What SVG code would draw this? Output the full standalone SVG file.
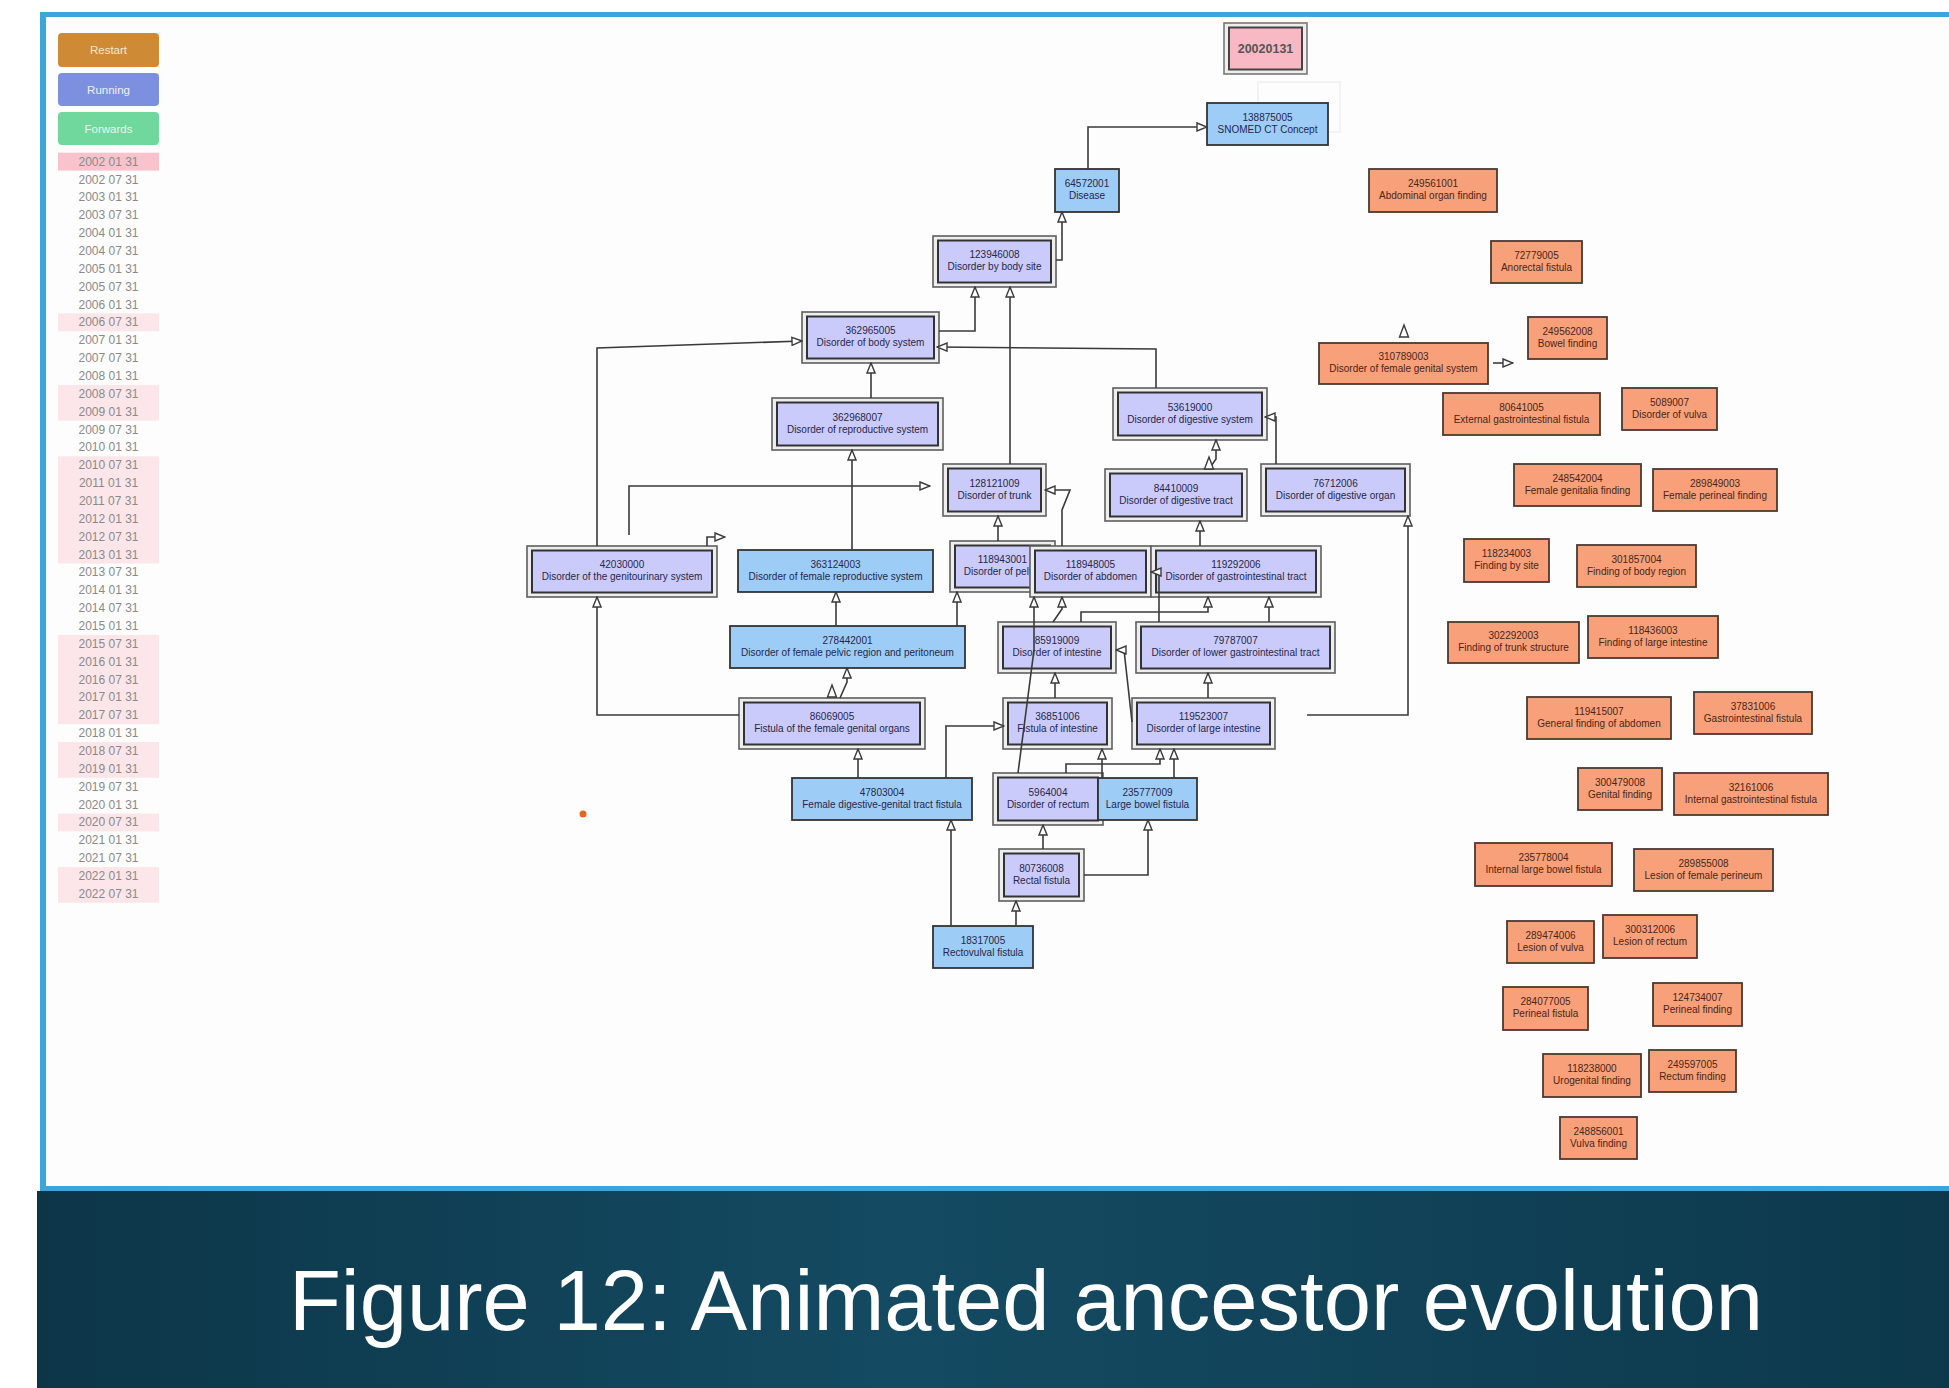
<svg xmlns="http://www.w3.org/2000/svg" width="1949" height="1388" viewBox="0 0 1949 1388">
  <style>
    .frame { fill: #fdfdfd; }
    .edge { fill: #3ca6da; }
    .btn-t { font-family: "Liberation Sans", Arial, sans-serif; font-size: 11.5px; text-anchor: middle; }
    .date { font-family: "Liberation Sans", Arial, sans-serif; font-size: 12px; fill: #8a8a8a; text-anchor: middle; }
    .hl { fill: #fce6e9; }
    .outer { fill: #eeeeee; stroke: #5e5e5e; stroke-width: 1.6; }
    .inner { fill: #cbcbfb; stroke: #333333; stroke-width: 2; }
    .blue { fill: #9dcdf7; stroke: #333333; stroke-width: 1.8; }
    .orange { fill: #f7a07a; stroke: #4a3a30; stroke-width: 1.8; }
    .lbl { font-family: "Liberation Sans", Arial, sans-serif; font-size: 10px; text-anchor: middle; fill: #26264a; }
    .orange-n .lbl { fill: #4a2616; }
    .con { fill: none; stroke: #3a3a3a; stroke-width: 1.6; marker-end: url(#tri); }
    .tri { fill: #ffffff; stroke: #3a3a3a; stroke-width: 1.4; }
  </style>
  <defs>
    <marker id="tri" viewBox="0 0 12 10" refX="11" refY="5" markerWidth="12" markerHeight="10" markerUnits="userSpaceOnUse" orient="auto">
      <path d="M1,1 L11,5 L1,9 Z" fill="#ffffff" stroke="#3a3a3a" stroke-width="1.4"/>
    </marker>
    <linearGradient id="band" x1="0" y1="0" x2="1" y2="0">
      <stop offset="0" stop-color="#0c3548"/>
      <stop offset="0.45" stop-color="#144b62"/>
      <stop offset="1" stop-color="#0d384c"/>
    </linearGradient>
  </defs>

  <!-- page -->
  <rect x="0" y="0" width="1949" height="1388" fill="#ffffff"/>
  <rect class="frame" x="43" y="14" width="1906" height="1174"/>
  <rect class="edge" x="40" y="12" width="1909" height="5"/>
  <rect class="edge" x="40" y="12" width="6" height="1180"/>
  <rect class="edge" x="40" y="1186" width="1909" height="5"/>

  <!-- control panel -->
  <g id="controls">
    <rect x="58" y="33" width="101" height="34" rx="4" fill="#cf8a36"/>
    <text class="btn-t" x="108.5" y="54" fill="#fbe8c6">Restart</text>
    <rect x="58" y="73" width="101" height="33" rx="4" fill="#7d90e0"/>
    <text class="btn-t" x="108.5" y="94" fill="#eef0ff">Running</text>
    <rect x="58" y="112" width="101" height="33" rx="4" fill="#70d79d"/>
    <text class="btn-t" x="108.5" y="133" fill="#e2faec">Forwards</text>
  </g>

  <g id="timeline">
    <rect x="58" y="152.7" width="101" height="17.9" fill="#f8c3cc"/>
    <rect class="hl" x="58" y="313.4" width="101" height="17.9"/>
    <rect class="hl" x="58" y="384.9" width="101" height="35.7"/>
    <rect class="hl" x="58" y="456.3" width="101" height="107.2"/>
    <rect class="hl" x="58" y="634.9" width="101" height="89.3"/>
    <rect class="hl" x="58" y="742.1" width="101" height="35.7"/>
    <rect class="hl" x="58" y="813.5" width="101" height="17.9"/>
    <rect class="hl" x="58" y="867.1" width="101" height="35.7"/>
    <text class="date" x="108.5" y="165.6">2002 01 31</text>
    <text class="date" x="108.5" y="183.5">2002 07 31</text>
    <text class="date" x="108.5" y="201.3">2003 01 31</text>
    <text class="date" x="108.5" y="219.2">2003 07 31</text>
    <text class="date" x="108.5" y="237">2004 01 31</text>
    <text class="date" x="108.5" y="254.9">2004 07 31</text>
    <text class="date" x="108.5" y="272.8">2005 01 31</text>
    <text class="date" x="108.5" y="290.6">2005 07 31</text>
    <text class="date" x="108.5" y="308.5">2006 01 31</text>
    <text class="date" x="108.5" y="326.3">2006 07 31</text>
    <text class="date" x="108.5" y="344.2">2007 01 31</text>
    <text class="date" x="108.5" y="362.1">2007 07 31</text>
    <text class="date" x="108.5" y="379.9">2008 01 31</text>
    <text class="date" x="108.5" y="397.8">2008 07 31</text>
    <text class="date" x="108.5" y="415.6">2009 01 31</text>
    <text class="date" x="108.5" y="433.5">2009 07 31</text>
    <text class="date" x="108.5" y="451.4">2010 01 31</text>
    <text class="date" x="108.5" y="469.2">2010 07 31</text>
    <text class="date" x="108.5" y="487.1">2011 01 31</text>
    <text class="date" x="108.5" y="504.9">2011 07 31</text>
    <text class="date" x="108.5" y="522.8">2012 01 31</text>
    <text class="date" x="108.5" y="540.7">2012 07 31</text>
    <text class="date" x="108.5" y="558.5">2013 01 31</text>
    <text class="date" x="108.5" y="576.4">2013 07 31</text>
    <text class="date" x="108.5" y="594.2">2014 01 31</text>
    <text class="date" x="108.5" y="612.1">2014 07 31</text>
    <text class="date" x="108.5" y="630">2015 01 31</text>
    <text class="date" x="108.5" y="647.8">2015 07 31</text>
    <text class="date" x="108.5" y="665.7">2016 01 31</text>
    <text class="date" x="108.5" y="683.5">2016 07 31</text>
    <text class="date" x="108.5" y="701.4">2017 01 31</text>
    <text class="date" x="108.5" y="719.3">2017 07 31</text>
    <text class="date" x="108.5" y="737.1">2018 01 31</text>
    <text class="date" x="108.5" y="755">2018 07 31</text>
    <text class="date" x="108.5" y="772.8">2019 01 31</text>
    <text class="date" x="108.5" y="790.7">2019 07 31</text>
    <text class="date" x="108.5" y="808.6">2020 01 31</text>
    <text class="date" x="108.5" y="826.4">2020 07 31</text>
    <text class="date" x="108.5" y="844.3">2021 01 31</text>
    <text class="date" x="108.5" y="862.1">2021 07 31</text>
    <text class="date" x="108.5" y="880">2022 01 31</text>
    <text class="date" x="108.5" y="897.9">2022 07 31</text>
  </g>

  <!-- current snapshot date -->
  <g id="snapshot-date">
    <rect x="1224" y="23" width="83" height="51" fill="#eeeeee" stroke="#777" stroke-width="1.6"/>
    <rect x="1229" y="27.5" width="73" height="42" fill="#f8b8c4" stroke="#444" stroke-width="2"/>
    <text x="1265.5" y="53" font-family="Liberation Sans, Arial, sans-serif" font-size="12.5" font-weight="bold" fill="#555" text-anchor="middle">20020131</text>
  </g>
  <rect x="1258" y="82" width="82" height="50" fill="none" stroke="#f0f0f0" stroke-width="1.5"/>

  <!-- concept nodes: blue = single border, lavender = double border -->
  <g id="n138875005"><rect class="blue" x="1207" y="103" width="121" height="42"/><text class="lbl" x="1267.5" y="120.5">138875005</text><text class="lbl" x="1267.5" y="132.5">SNOMED CT Concept</text></g>
  <g id="n64572001"><rect class="blue" x="1055" y="169" width="64" height="43"/><text class="lbl" x="1087" y="187">64572001</text><text class="lbl" x="1087" y="199">Disease</text></g>

  <g id="n123946008"><rect class="outer" x="933" y="236" width="123" height="51"/><rect class="inner" x="938" y="240.5" width="113" height="42"/><text class="lbl" x="994.5" y="258">123946008</text><text class="lbl" x="994.5" y="270">Disorder by body site</text></g>
  <g id="n362965005"><rect class="outer" x="802" y="312" width="137" height="51"/><rect class="inner" x="807" y="316.5" width="127" height="42"/><text class="lbl" x="870.5" y="334">362965005</text><text class="lbl" x="870.5" y="346">Disorder of body system</text></g>
  <g id="n362968007"><rect class="outer" x="772" y="398" width="171" height="52"/><rect class="inner" x="777" y="402.5" width="161" height="43"/><text class="lbl" x="857.5" y="420.5">362968007</text><text class="lbl" x="857.5" y="432.5">Disorder of reproductive system</text></g>
  <g id="n42030000"><rect class="outer" x="527" y="546" width="190" height="51"/><rect class="inner" x="532" y="550.5" width="180" height="42"/><text class="lbl" x="622" y="568">42030000</text><text class="lbl" x="622" y="580">Disorder of the genitourinary system</text></g>
  <g id="n363124003"><rect class="blue" x="738" y="550" width="195" height="42"/><text class="lbl" x="835.5" y="567.5">363124003</text><text class="lbl" x="835.5" y="579.5">Disorder of female reproductive system</text></g>
  <g id="n128121009"><rect class="outer" x="943" y="464" width="103" height="52"/><rect class="inner" x="948" y="468.5" width="93" height="43"/><text class="lbl" x="994.5" y="486.5">128121009</text><text class="lbl" x="994.5" y="498.5">Disorder of trunk</text></g>
  <g id="n53619000"><rect class="outer" x="1113" y="388" width="154" height="52"/><rect class="inner" x="1118" y="392.5" width="144" height="43"/><text class="lbl" x="1190" y="410.5">53619000</text><text class="lbl" x="1190" y="422.5">Disorder of digestive system</text></g>
  <g id="n84410009"><rect class="outer" x="1105" y="469" width="142" height="52"/><rect class="inner" x="1110" y="473.5" width="132" height="43"/><text class="lbl" x="1176" y="491.5">84410009</text><text class="lbl" x="1176" y="503.5">Disorder of digestive tract</text></g>
  <g id="n76712006"><rect class="outer" x="1261" y="464" width="149" height="52"/><rect class="inner" x="1266" y="468.5" width="139" height="43"/><text class="lbl" x="1335.5" y="486.5">76712006</text><text class="lbl" x="1335.5" y="498.5">Disorder of digestive organ</text></g>
  <g id="n118943001"><rect class="outer" x="950" y="541" width="105" height="51"/><rect class="inner" x="955" y="545.5" width="95" height="42"/><text class="lbl" x="1002.5" y="563">118943001</text><text class="lbl" x="1002.5" y="575">Disorder of pelvis</text></g>
  <g id="n118948005"><rect class="outer" x="1030" y="546" width="121" height="51"/><rect class="inner" x="1035" y="550.5" width="111" height="42"/><text class="lbl" x="1090.5" y="568">118948005</text><text class="lbl" x="1090.5" y="580">Disorder of abdomen</text></g>
  <g id="n119292006"><rect class="outer" x="1151" y="546" width="170" height="51"/><rect class="inner" x="1156" y="550.5" width="160" height="42"/><text class="lbl" x="1236" y="568">119292006</text><text class="lbl" x="1236" y="580">Disorder of gastrointestinal tract</text></g>
  <g id="n278442001"><rect class="blue" x="730" y="626" width="235" height="42"/><text class="lbl" x="847.5" y="643.5">278442001</text><text class="lbl" x="847.5" y="655.5">Disorder of female pelvic region and peritoneum</text></g>
  <g id="n85919009"><rect class="outer" x="998" y="622" width="118" height="51"/><rect class="inner" x="1003" y="626.5" width="108" height="42"/><text class="lbl" x="1057" y="644">85919009</text><text class="lbl" x="1057" y="656">Disorder of intestine</text></g>
  <g id="n79787007"><rect class="outer" x="1136" y="622" width="199" height="51"/><rect class="inner" x="1141" y="626.5" width="189" height="42"/><text class="lbl" x="1235.5" y="644">79787007</text><text class="lbl" x="1235.5" y="656">Disorder of lower gastrointestinal tract</text></g>
  <g id="n86069005"><rect class="outer" x="739" y="698" width="186" height="51"/><rect class="inner" x="744" y="702.5" width="176" height="42"/><text class="lbl" x="832" y="720">86069005</text><text class="lbl" x="832" y="732">Fistula of the female genital organs</text></g>
  <g id="n36851006"><rect class="outer" x="1003" y="698" width="109" height="51"/><rect class="inner" x="1008" y="702.5" width="99" height="42"/><text class="lbl" x="1057.5" y="720">36851006</text><text class="lbl" x="1057.5" y="732">Fistula of intestine</text></g>
  <g id="n119523007"><rect class="outer" x="1132" y="698" width="143" height="51"/><rect class="inner" x="1137" y="702.5" width="133" height="42"/><text class="lbl" x="1203.5" y="720">119523007</text><text class="lbl" x="1203.5" y="732">Disorder of large intestine</text></g>
  <g id="n47803004"><rect class="blue" x="792" y="778" width="180" height="42"/><text class="lbl" x="882" y="795.5">47803004</text><text class="lbl" x="882" y="807.5">Female digestive-genital tract fistula</text></g>
  <g id="n5964004"><rect class="outer" x="993" y="773" width="110" height="52"/><rect class="inner" x="998" y="777.5" width="100" height="43"/><text class="lbl" x="1048" y="795.5">5964004</text><text class="lbl" x="1048" y="807.5">Disorder of rectum</text></g>
  <g id="n235777009"><rect class="blue" x="1098" y="778" width="99" height="42"/><text class="lbl" x="1147.5" y="795.5">235777009</text><text class="lbl" x="1147.5" y="807.5">Large bowel fistula</text></g>
  <g id="n80736008"><rect class="outer" x="999" y="849" width="85" height="52"/><rect class="inner" x="1004" y="853.5" width="75" height="43"/><text class="lbl" x="1041.5" y="871.5">80736008</text><text class="lbl" x="1041.5" y="883.5">Rectal fistula</text></g>
  <g id="n18317005"><rect class="blue" x="933" y="926" width="100" height="42"/><text class="lbl" x="983" y="943.5">18317005</text><text class="lbl" x="983" y="955.5">Rectovulval fistula</text></g>

  <!-- unplaced concepts (orange) -->
  <g class="orange-n">
    <g id="n249561001"><rect class="orange" x="1369" y="169" width="128" height="43"/><text class="lbl" x="1433" y="187">249561001</text><text class="lbl" x="1433" y="199">Abdominal organ finding</text></g>
    <g id="n72779005"><rect class="orange" x="1491" y="241" width="91" height="42"/><text class="lbl" x="1536.5" y="258.5">72779005</text><text class="lbl" x="1536.5" y="270.5">Anorectal fistula</text></g>
    <g id="n310789003"><rect class="orange" x="1319" y="343" width="169" height="41"/><text class="lbl" x="1403.5" y="360">310789003</text><text class="lbl" x="1403.5" y="372">Disorder of female genital system</text></g>
    <g id="n249562008"><rect class="orange" x="1528" y="317" width="79" height="42"/><text class="lbl" x="1567.5" y="334.5">249562008</text><text class="lbl" x="1567.5" y="346.5">Bowel finding</text></g>
    <g id="n80641005"><rect class="orange" x="1443" y="393" width="157" height="42"/><text class="lbl" x="1521.5" y="410.5">80641005</text><text class="lbl" x="1521.5" y="422.5">External gastrointestinal fistula</text></g>
    <g id="n5089007"><rect class="orange" x="1622" y="388" width="95" height="42"/><text class="lbl" x="1669.5" y="405.5">5089007</text><text class="lbl" x="1669.5" y="417.5">Disorder of vulva</text></g>
    <g id="n248542004"><rect class="orange" x="1514" y="464" width="127" height="42"/><text class="lbl" x="1577.5" y="481.5">248542004</text><text class="lbl" x="1577.5" y="493.5">Female genitalia finding</text></g>
    <g id="n289849003"><rect class="orange" x="1653" y="469" width="124" height="42"/><text class="lbl" x="1715" y="486.5">289849003</text><text class="lbl" x="1715" y="498.5">Female perineal finding</text></g>
    <g id="n118234003"><rect class="orange" x="1464" y="539" width="85" height="43"/><text class="lbl" x="1506.5" y="557">118234003</text><text class="lbl" x="1506.5" y="569">Finding by site</text></g>
    <g id="n301857004"><rect class="orange" x="1577" y="545" width="119" height="42"/><text class="lbl" x="1636.5" y="562.5">301857004</text><text class="lbl" x="1636.5" y="574.5">Finding of body region</text></g>
    <g id="n302292003"><rect class="orange" x="1448" y="622" width="131" height="41"/><text class="lbl" x="1513.5" y="639">302292003</text><text class="lbl" x="1513.5" y="651">Finding of trunk structure</text></g>
    <g id="n118436003"><rect class="orange" x="1588" y="616" width="130" height="42"/><text class="lbl" x="1653" y="633.5">118436003</text><text class="lbl" x="1653" y="645.5">Finding of large intestine</text></g>
    <g id="n119415007"><rect class="orange" x="1527" y="697" width="144" height="42"/><text class="lbl" x="1599" y="714.5">119415007</text><text class="lbl" x="1599" y="726.5">General finding of abdomen</text></g>
    <g id="n37831006"><rect class="orange" x="1694" y="692" width="118" height="42"/><text class="lbl" x="1753" y="709.5">37831006</text><text class="lbl" x="1753" y="721.5">Gastrointestinal fistula</text></g>
    <g id="n300479008"><rect class="orange" x="1578" y="768" width="84" height="42"/><text class="lbl" x="1620" y="785.5">300479008</text><text class="lbl" x="1620" y="797.5">Genital finding</text></g>
    <g id="n32161006"><rect class="orange" x="1674" y="773" width="154" height="42"/><text class="lbl" x="1751" y="790.5">32161006</text><text class="lbl" x="1751" y="802.5">Internal gastrointestinal fistula</text></g>
    <g id="n235778004"><rect class="orange" x="1475" y="843" width="137" height="43"/><text class="lbl" x="1543.5" y="861">235778004</text><text class="lbl" x="1543.5" y="873">Internal large bowel fistula</text></g>
    <g id="n289855008"><rect class="orange" x="1634" y="849" width="139" height="42"/><text class="lbl" x="1703.5" y="866.5">289855008</text><text class="lbl" x="1703.5" y="878.5">Lesion of female perineum</text></g>
    <g id="n289474006"><rect class="orange" x="1507" y="921" width="87" height="42"/><text class="lbl" x="1550.5" y="938.5">289474006</text><text class="lbl" x="1550.5" y="950.5">Lesion of vulva</text></g>
    <g id="n300312006"><rect class="orange" x="1603" y="915" width="94" height="43"/><text class="lbl" x="1650" y="933">300312006</text><text class="lbl" x="1650" y="945">Lesion of rectum</text></g>
    <g id="n284077005"><rect class="orange" x="1503" y="987" width="85" height="43"/><text class="lbl" x="1545.5" y="1005">284077005</text><text class="lbl" x="1545.5" y="1017">Perineal fistula</text></g>
    <g id="n124734007"><rect class="orange" x="1653" y="983" width="89" height="43"/><text class="lbl" x="1697.5" y="1001">124734007</text><text class="lbl" x="1697.5" y="1013">Perineal finding</text></g>
    <g id="n118238000"><rect class="orange" x="1543" y="1054" width="98" height="43"/><text class="lbl" x="1592" y="1072">118238000</text><text class="lbl" x="1592" y="1084">Urogenital finding</text></g>
    <g id="n249597005"><rect class="orange" x="1649" y="1050" width="87" height="42"/><text class="lbl" x="1692.5" y="1067.5">249597005</text><text class="lbl" x="1692.5" y="1079.5">Rectum finding</text></g>
    <g id="n248856001"><rect class="orange" x="1560" y="1117" width="77" height="42"/><text class="lbl" x="1598.5" y="1134.5">248856001</text><text class="lbl" x="1598.5" y="1146.5">Vulva finding</text></g>
  </g>

  <!-- is-a links (hollow triangle at the parent end) -->
  <g id="connectors">
    <polyline class="con" points="1088,169 1088,127 1207,127"/>
    <polyline class="con" points="1056,260 1062,260 1062,212"/>
    <polyline class="con" points="939,331 975,331 975,287"/>
    <polyline class="con" points="1010,464 1010,287"/>
    <polyline class="con" points="871,398 871,363"/>
    <polyline class="con" points="597,546 597,348 802,341"/>
    <polyline class="con" points="1156,388 1156,349 937,347"/>
    <polyline class="con" points="707,546 707,537 725,537"/>
    <polyline class="con" points="629,535 629,486 930,486"/>
    <polyline class="con" points="852,550 852,450"/>
    <polyline class="con" points="998,541 998,516"/>
    <polyline class="con" points="1062,546 1062,510 1070,490 1045,490"/>
    <polyline class="con" points="1209,469 1216,459 1216,440"/>
    <polyline class="con" points="1276,464 1276,417 1265,417"/>
    <polyline class="con" points="1200,546 1200,521"/>
    <polyline class="con" points="957,626 957,592"/>
    <polyline class="con" points="836,626 836,592"/>
    <polyline class="con" points="840,698 847,682 847,668"/>
    <polyline class="con" points="1053,622 1062,609 1062,597"/>
    <polyline class="con" points="1081,622 1081,612 1208,612 1208,597"/>
    <polyline class="con" points="1269,622 1269,597"/>
    <polyline class="con" points="1159,622 1159,572 1151,572"/>
    <polyline class="con" points="1132,722 1124,650 1116,650"/>
    <polyline class="con" points="1208,698 1208,673"/>
    <polyline class="con" points="1055,698 1055,673"/>
    <polyline class="con" points="858,778 858,749"/>
    <polyline class="con" points="946,778 946,726 1004,726"/>
    <polyline class="con" points="1102,778 1102,749"/>
    <polyline class="con" points="1018,773 1034,650 1034,597"/>
    <polyline class="con" points="1066,773 1066,764 1160,764 1160,749"/>
    <polyline class="con" points="1174,778 1174,749"/>
    <polyline class="con" points="1043,849 1043,825"/>
    <polyline class="con" points="1084,875 1148,875 1148,820"/>
    <polyline class="con" points="1016,926 1016,901"/>
    <polyline class="con" points="951,926 951,820"/>
    <polyline class="con" points="739,715 597,715 597,597"/>
    <polyline class="con" points="1307,715 1408,715 1408,516"/>
    <polyline class="con" points="1493,363 1513,363"/>
    <polygon class="tri" points="1209,457 1204.5,469 1213.5,469"/>
    <polygon class="tri" points="832,685 827.5,697 836.5,697"/>
    <polygon class="tri" points="1404,325 1399.5,337 1408.5,337"/>
  </g>

  <circle cx="583" cy="814" r="3.5" fill="#e8651e"/>

  <!-- caption band -->
  <rect x="37" y="1191" width="1912" height="197" fill="url(#band)"/>
  <text x="1026" y="1330" font-family="Liberation Sans, Arial, sans-serif" font-size="85" fill="#ffffff" text-anchor="middle">Figure 12: Animated ancestor evolution</text>
</svg>
